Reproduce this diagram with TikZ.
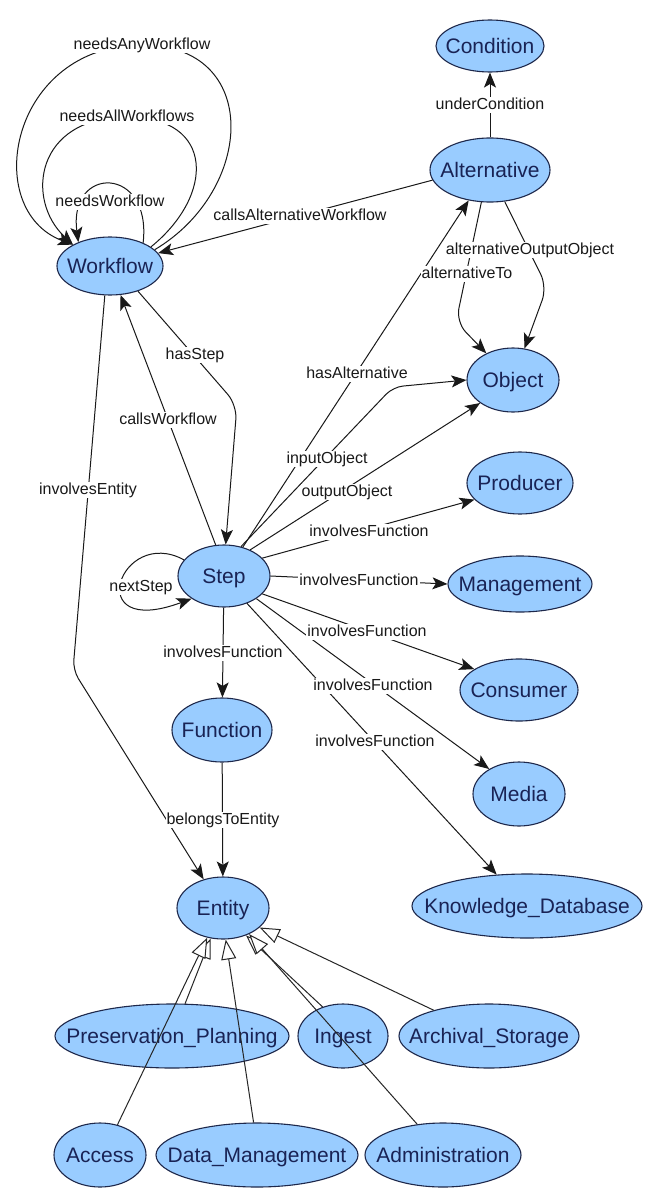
\documentclass[tikz,border=0pt]{standalone}
\usepackage{fontspec}
\setmainfont{Liberation Sans}
\usetikzlibrary{shapes.geometric,arrows.meta}
\definecolor{nodefill}{RGB}{153,204,255}
\definecolor{nodeline}{RGB}{30,40,75}
\definecolor{nodetext}{RGB}{25,35,85}
\newcommand{\zb}[1]{\makebox[0pt]{#1}}
\begin{document}
\begin{tikzpicture}[x=1pt,y=-1pt,
  cls/.style={ellipse, draw=nodeline, fill=nodefill, line width=1.1pt, inner sep=0pt, text=nodetext, font=\fontsize{21}{24}\selectfont, text height=15pt, text depth=0pt},
  arr/.style={draw=black!90, line width=1pt, -{Stealth[length=15pt,width=12pt,inset=3.5pt]}},
  gen/.style={draw=black!85, line width=1pt, -{Triangle[length=20pt,width=15pt,fill=white,line width=1pt]}},
  lbl/.style={fill=white, inner sep=1pt, text=black!90, font=\fontsize{16}{18}\selectfont, text height=12pt, text depth=2.5pt}
]
\fill[white] (0,0) rectangle (645,1188);
\useasboundingbox (0,0) rectangle (645,1188);

% classes
\node[cls, minimum width=108pt, minimum height=52pt] (cond) at (490,46) {\zb{Condition}};
\node[cls, minimum width=120pt, minimum height=64pt] (alt) at (490,170) {\zb{Alternative}};
\node[cls, minimum width=106pt, minimum height=58pt] (wf) at (110,266) {\zb{Workflow}};
\node[cls, minimum width=92pt, minimum height=64pt] (obj) at (513,380) {\zb{Object}};
\node[cls, minimum width=106pt, minimum height=62pt] (prod) at (520,483) {\zb{Producer}};
\node[cls, minimum width=144pt, minimum height=56pt] (mgmt) at (520,584) {\zb{Management}};
\node[cls, minimum width=118pt, minimum height=62pt] (cons) at (519,690) {\zb{Consumer}};
\node[cls, minimum width=92pt, minimum height=64pt] (media) at (519,794) {\zb{Media}};
\node[cls, minimum width=230pt, minimum height=64pt] (kd) at (527,906) {\zb{Knowledge\_Database}};
\node[cls, minimum width=92pt, minimum height=62pt] (step) at (224,576) {\zb{Step}};
\node[cls, minimum width=100pt, minimum height=64pt] (func) at (222,730) {\zb{Function}};
\node[cls, minimum width=92pt, minimum height=62pt] (ent) at (223,908) {\zb{Entity}};
\node[cls, minimum width=234pt, minimum height=64pt] (pp) at (172,1036) {\zb{Preservation\_Planning}};
\node[cls, minimum width=90pt, minimum height=64pt] (ing) at (343,1036) {\zb{Ingest}};
\node[cls, minimum width=180pt, minimum height=64pt] (arch) at (489,1036) {\zb{Archival\_Storage}};
\node[cls, minimum width=92pt, minimum height=64pt] (acc) at (100,1155) {\zb{Access}};
\node[cls, minimum width=202pt, minimum height=64pt] (dm) at (257,1155) {\zb{Data\_Management}};
\node[cls, minimum width=156pt, minimum height=64pt] (adm) at (443,1155) {\zb{Administration}};

% self loops on Workflow
\draw[arr] (wf.20) .. controls (255,190) and (262,45) .. (142,45) .. controls (10,45) and (-20,210) .. (wf.150);
\draw[arr] (wf.25) .. controls (215,195) and (215,117) .. (127,117) .. controls (35,117) and (25,200) .. (wf.150);
\draw[arr] (wf.35) .. controls (152,165) and (68,165) .. (wf.143);
\draw[arr] (alt.190) -- (wf.15);
\draw[arr] (alt) -- (cond);
% Alternative to Object
\draw[arr, rounded corners=14pt] (alt.255) -- (456,322) -- (obj.135);
\draw[arr, rounded corners=14pt] (alt.295) -- (547,287) -- (obj.70);
% Step edges
\draw[arr] (step) -- (alt.235);
\draw[arr, rounded corners=10pt] (step.60) -- (393,387) -- (obj.180);
\draw[arr] (step.45) -- (obj.215);
\draw[arr] (step.25) -- (prod.200);
\draw[arr] (step.east) -- (mgmt.west);
\draw[arr] (step.-25) -- (cons.155);
\draw[arr] (step.-35) -- (media.140);
\draw[arr] (step.-50) -- (kd.134);
\draw[arr] (step) -- (func);
\draw[arr] (step.158) .. controls (120,525) and (80,640) .. (step.215);
\draw[arr, rounded corners=14pt] (wf.-42) -- (237,405) -- (step.87);
\draw[arr] (step.105) -- (wf.-70);
\draw[arr, rounded corners=10pt] (wf.-100) -- (73,670) -- (ent.124);
\draw[arr] (func) -- (ent);
% generalisations
\draw[gen] (pp.68) -- (ent.-112);
\draw[gen] (acc.60) -- (ent.-118);
\draw[gen] (dm.96) -- (ent.-85);
\draw[gen] (ing.125) -- (ent.-50);
\draw[gen] (adm.130) -- (ent.-45);
\draw[gen] (arch.155) -- (ent.-28);

% labels
\node[lbl] (l1) at (142,45) {needsAnyWorkflow};
\node[lbl] (l2) at (127,117) {needsAllWorkflows};
\node[lbl] (l3) at (110,202) {needsWorkflow};
\node[lbl] (l4) at (300,216) {callsAlternativeWorkflow};
\node[lbl] (l5) at (490,105) {underCondition};
\node[lbl] (l6) at (530,250) {alternativeOutputObject};
\node[lbl] (l7) at (467,274) {alternativeTo};
\node[lbl] (l8) at (357,374) {hasAlternative};
\node[lbl] (l9) at (327,459) {inputObject};
\node[lbl] (l10) at (347,492) {outputObject};
\node[lbl] (l11) at (369,532) {involvesFunction};
\node[lbl] (l12) at (359,581) {involvesFunction};
\node[lbl] (l13) at (367,632) {involvesFunction};
\node[lbl] (l14) at (373,686) {involvesFunction};
\node[lbl] (l15) at (375,742) {involvesFunction};
\node[lbl] (l16) at (223,653) {involvesFunction};
\node[lbl] (l17) at (141,587) {nextStep};
\node[lbl] (l18) at (195,355) {hasStep};
\node[lbl] (l19) at (168,420) {callsWorkflow};
\node[lbl] (l20) at (88,490) {involvesEntity};
\node[lbl] (l21) at (223,820) {belongsToEntity};
\end{tikzpicture}
\end{document}
